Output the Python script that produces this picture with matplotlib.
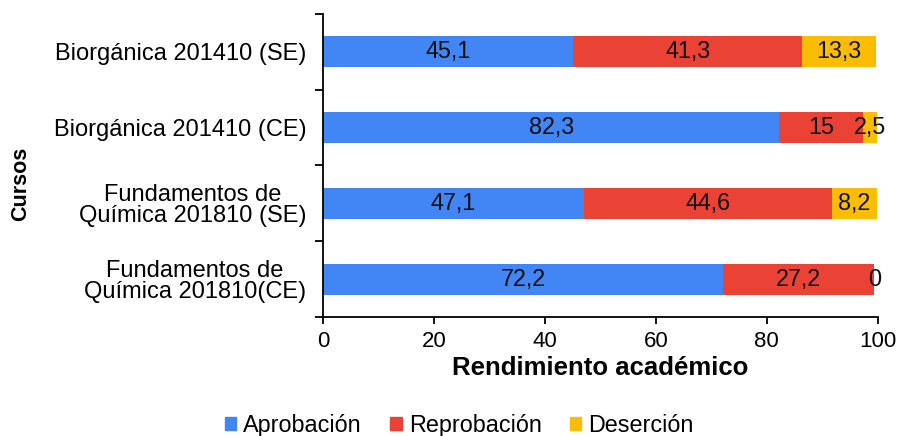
import numpy as np
import matplotlib.pyplot as plt
from matplotlib.patches import Patch

plt.rcParams['font.family'] = ['Liberation Sans', 'DejaVu Sans']

cursos = ['Biorgánica 201410 (SE)', 'Biorgánica 201410 (CE)',
          'Fundamentos de\nQuímica 201810 (SE)', 'Fundamentos de\nQuímica 201810(CE)']
aprobacion = [45.1, 82.3, 47.1, 72.2]
reprobacion = [41.3, 15, 44.6, 27.2]
desercion = [13.3, 2.5, 8.2, 0]
series = ['Aprobación', 'Reprobación', 'Deserción']
colores = ['#4285F4', '#EA4335', '#FBBC04']

fig = plt.figure(figsize=(9.02, 4.36), dpi=100)
ax = fig.add_axes([0.358, 0.273, 0.615, 0.695])

y = np.arange(len(cursos))
left = np.zeros(len(cursos))
for vals, col in zip([aprobacion, reprobacion, desercion], colores):
    vals = np.array(vals, dtype=float)
    ax.barh(y, vals, left=left, height=0.41, color=col)
    for yi, l, v in zip(y, left, vals):
        txt = f'{v:g}'.replace('.', ',')
        ax.text(l + v / 2, yi, txt, ha='center', va='center', fontsize=16.8, color='#111111')
    left += vals

ax.set_xlim(0, 100)
ax.set_ylim(3.5, -0.5)
ax.set_xticks([0, 20, 40, 60, 80, 100])
ax.set_yticks(y)
ax.set_yticklabels(cursos, fontsize=17, linespacing=0.95)
ax.set_yticks([-0.5, 0.5, 1.5, 2.5, 3.5], minor=True)
ax.tick_params(axis='y', which='major', length=0, pad=12)
ax.tick_params(axis='y', which='minor', length=6, width=1.3, direction='out')
ax.tick_params(axis='x', labelsize=16, length=5, width=1.3, direction='out', pad=5)
for lbl in ax.get_yticklabels():
    lbl.set_multialignment('center')
for s in ['top', 'right']:
    ax.spines[s].set_visible(False)
for s in ['left', 'bottom']:
    ax.spines[s].set_linewidth(1.3)

ax.set_xlabel('Rendimiento académico', fontsize=18.5, fontweight='bold', labelpad=3)
ax.set_ylabel('Cursos', fontsize=15.5, fontweight='bold')
ax.yaxis.set_label_coords(-0.526, 0.44)

handles = [Patch(color=c, label=s) for s, c in zip(series, colores)]
fig.legend(handles=handles, loc='center', bbox_to_anchor=(0.509, 0.025), ncol=3,
           frameon=False, fontsize=16.8, handlelength=0.5, handleheight=0.5,
           handletextpad=0.3, columnspacing=1.2)

fig.savefig('out.png', dpi=100)
